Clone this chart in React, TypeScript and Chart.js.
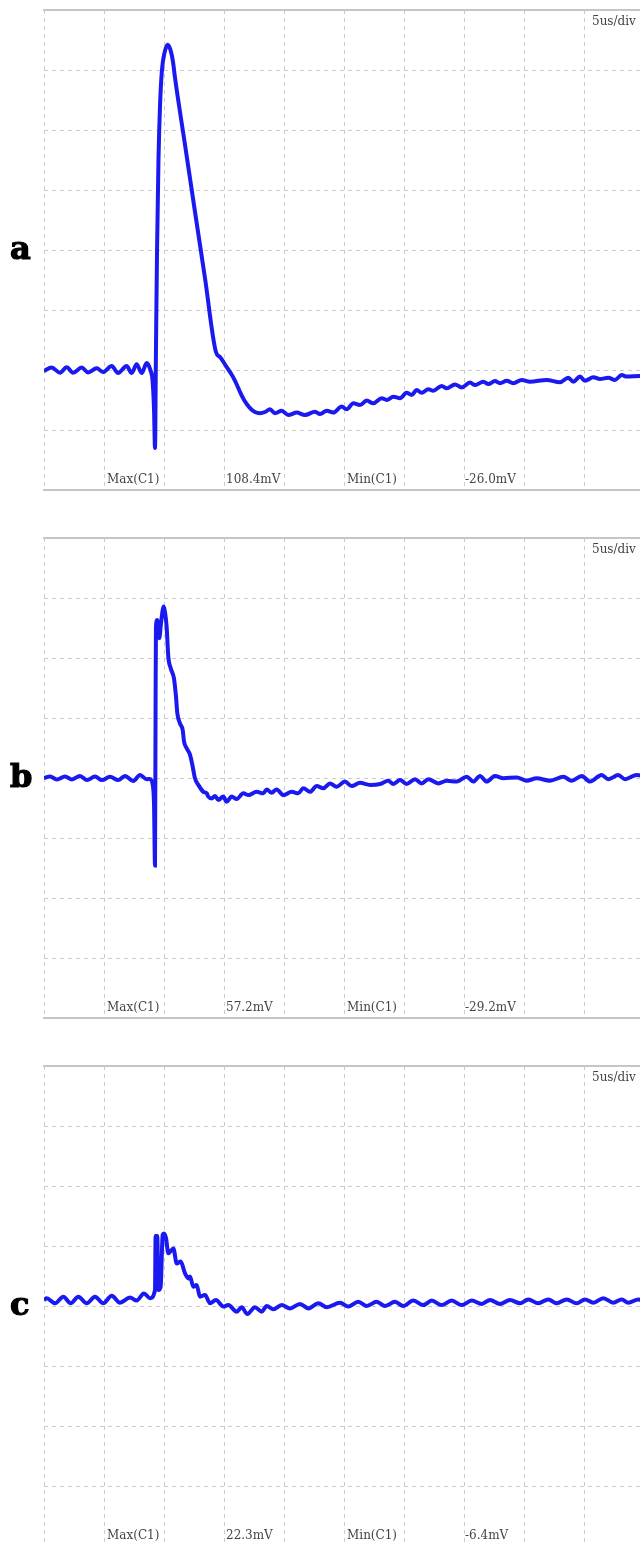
import React, { useEffect, useRef } from "react";
import { Chart, registerables } from "chart.js";

Chart.register(...registerables);

// ---- Panel a (20 mV/div, 5 us/div) ----
const timeA = [0, 0.64, 1.33, 1.89, 2.42, 3.14, 3.67, 4.39, 4.92, 5.64, 6.17, 6.89, 7.31, 7.72, 8.14, 8.56, 8.88, 9.04, 9.17, 9.25,
  9.33, 9.42, 9.54, 9.67, 9.83, 10.04, 10.31, 10.54, 10.75, 10.92, 11.75, 12.58, 13.42, 14.33, 14.67, 15.17, 15.75, 16.08,
  16.33, 16.67, 17.17, 17.58, 18.0, 18.42, 18.83, 19.25, 19.81, 20.36, 21.06, 21.75, 22.58, 23.0, 23.56, 24.11, 24.81, 25.22,
  25.78, 26.33, 26.89, 27.44, 28.14, 28.56, 29.11, 29.67, 30.22, 30.64, 31.06, 31.47, 32.03, 32.44, 33.14, 33.56, 34.25, 34.81,
  35.5, 35.92, 36.61, 37.03, 37.58, 38.0, 38.56, 39.11, 39.81, 40.5, 41.89, 43.0, 43.69, 44.11, 44.67, 45.08, 45.78, 46.33,
  47.03, 47.58, 48.14, 48.56, 49.67, 50];
const voltsA = [-0.3, 0.8, -0.9, 0.9, -0.9, 0.8, -0.8, 0.6, -0.7, 1.3, -1.0, 1.3, -1.0, 1.9, -1.0, 2.3, -0.2, -3.3, -13.3, -26.0,
  6.7, 40, 70, 88.3, 100, 105.7, 108.4, 106.7, 102.7, 97.3, 75.1, 52.8, 30.5, 6, 4.3, 1.3, -2.3, -5,
  -7.3, -10, -12.7, -14, -14.4, -14, -13.1, -14.4, -13.6, -15, -14.2, -15, -13.9, -14.7, -13.6, -14.2, -12.2, -13.1,
  -11.1, -11.7, -10.2, -11.1, -9.4, -10, -8.9, -9.4, -7.6, -8.3, -6.7, -7.6, -6.4, -6.9, -5.3, -6.1, -4.8, -5.8,
  -4.2, -5, -3.9, -4.7, -3.7, -4.4, -3.6, -4.4, -3.3, -3.9, -3.3, -4.1, -2.6, -3.9, -2.2, -3.6, -2.4, -3,
  -2.6, -3.3, -1.7, -2.2, -2, -2];

// ---- Panel b ----
const timeB = [0, 0.5, 1.08, 1.75, 2.33, 3.0, 3.58, 4.25, 4.83, 5.5, 6.19, 6.75, 7.44, 8.0, 8.56, 8.83, 9.06, 9.17, 9.25, 9.3,
  9.33, 9.44, 9.61, 9.75, 9.98, 10.08, 10.22, 10.36, 10.56, 10.83, 11.0, 11.11, 11.33, 11.56, 11.67, 11.89, 12.17, 12.39, 12.58,
  12.86, 13.28, 13.56, 13.69, 13.97, 14.25, 14.53, 14.94, 15.22, 15.64, 16.06, 16.61, 17.03, 17.72, 18.28, 18.56, 18.97, 19.39,
  19.94, 20.64, 21.19, 21.61, 22.17, 22.72, 23.28, 23.83, 24.39, 25.08, 25.64, 26.33, 27.17, 28.0, 28.69, 29.11, 29.67, 30.22,
  30.92, 31.47, 32.03, 32.86, 33.56, 34.39, 35.22, 35.78, 36.33, 36.89, 37.58, 38.28, 39.39, 40.22, 41.06, 42.17, 43.28, 43.97,
  44.81, 45.5, 46.47, 47.03, 47.86, 48.42, 49.39, 50];
const voltsB = [0, 0.5, -0.5, 0.5, -0.5, 0.7, -0.7, 0.5, -0.7, 0.4, -0.7, 0.7, -1, 1, -0.4, -0.3, -2.3, -9, -29.2, 26,
  50.4, 52.7, 46.6, 51.7, 57.2, 55.4, 50.4, 40.4, 36.6, 33.2, 27.1, 21.6, 18.2, 16, 12.1, 9.9, 7.7, 3.8, -0.1,
  -2.3, -4.6, -5.1, -6.2, -6.8, -6, -7.3, -6.2, -7.9, -6.2, -7, -5.1, -5.7, -4.6, -5.1, -3.8, -4.9, -3.8,
  -5.7, -4.6, -5.1, -3.4, -4.6, -2.7, -3.4, -1.8, -2.9, -1.2, -2.7, -1.6, -2.3, -2, -0.9, -2, -0.7, -2,
  -0.4, -1.8, -0.4, -1.8, -0.9, -1.2, 0.4, -1.2, 0.7, -1.2, 0.7, -0.1, 0.2, -0.9, -0.1, -0.9, 0.4, -0.9,
  0.7, -1.2, 1, -0.4, 1, -0.4, 1, 0.7];

// ---- Panel c ----
const timeC = [0, 0.22, 0.92, 1.61, 2.22, 2.86, 3.56, 4.25, 4.94, 5.64, 6.33, 7.17, 7.72, 8.33, 8.83, 9.25, 9.3, 9.44, 9.53, 9.72,
  9.89, 10.0, 10.17, 10.36, 10.64, 10.78, 11.06, 11.39, 11.75, 12.03, 12.17, 12.44, 12.72, 13.0, 13.42, 13.83, 14.33, 14.94,
  15.36, 16.06, 16.47, 16.94, 17.58, 18.14, 18.56, 19.11, 19.81, 20.5, 21.33, 22.03, 22.86, 23.56, 24.67, 25.36, 26.19, 26.89,
  27.72, 28.42, 29.25, 29.94, 30.78, 31.61, 32.31, 33.14, 33.97, 34.81, 35.64, 36.47, 37.17, 38.0, 38.83, 39.67, 40.36, 41.19,
  42.03, 42.72, 43.56, 44.39, 45.08, 45.78, 46.61, 47.44, 48.14, 48.69, 49.53, 50];
const voltsC = [2, 2.6, 0.9, 3.1, 0.9, 3.1, 0.9, 3.1, 0.9, 3.4, 1.1, 2.8, 1.8, 4.2, 2.6, 5.3, 23.3, 23.3, 5.3, 6.4,
  23.7, 24.2, 22.6, 17.6, 18.7, 19.2, 14.2, 14.8, 10.9, 9.2, 9.8, 6.4, 7, 3.1, 3.7, 0.9, 2, -0.2,
  0.3, -1.9, -0.4, -2.7, -0.4, -1.9, 0, -1.1, 0.3, -0.8, 0.7, -0.8, 0.9, -0.4, 1.1, -0.2, 1.4, 0,
  1.4, 0, 1.4, 0, 1.8, 0.3, 1.8, 0.3, 1.8, 0.3, 1.8, 0.7, 2, 0.7, 2, 0.9, 2.2, 0.9,
  2.2, 0.9, 2.2, 0.9, 2.2, 1.1, 2.6, 1.1, 2.2, 1.1, 2.2, 1.7];

const panelLetters = ["a", "b", "c"];
const timebaseLabel = "5us/div";
const maxLabels = ["108.4mV", "57.2mV", "22.3mV"];
const minLabels = ["-26.0mV", "-29.2mV", "-6.4mV"];
const yMins = [-40, -80, -80];
const yMaxs = [120, 80, 80];

const panels = [
  { t: timeA, v: voltsA },
  { t: timeB, v: voltsB },
  { t: timeC, v: voltsC },
];

const PANEL_STEP = 528;
const TRACE = "#1a1af0";
const GRID = "#cbcbcb";
const BORDER = "#c6c6c6";

function Panel({ idx }: { idx: number }) {
  const ref = useRef<HTMLCanvasElement | null>(null);
  useEffect(() => {
    if (!ref.current) return;
    const p = panels[idx];
    const chart = new Chart(ref.current, {
      type: "line",
      data: {
        datasets: [
          {
            data: p.t.map((t, i) => ({ x: t, y: p.v[i] })),
            borderColor: TRACE,
            borderWidth: 4,
            pointRadius: 0,
            cubicInterpolationMode: "monotone",
            fill: false,
          },
        ],
      },
      options: {
        animation: false,
        responsive: false,
        maintainAspectRatio: false,
        devicePixelRatio: 1,
        layout: { padding: { left: 44, right: 6, top: 10, bottom: 10 } },
        plugins: { legend: { display: false }, tooltip: { enabled: false } },
        scales: {
          x: {
            type: "linear",
            min: 0,
            max: 50,
            ticks: { display: false, stepSize: 5 },
            grid: { color: GRID, drawTicks: false, lineWidth: 1 },
            border: { display: true, color: BORDER, width: 2, dash: [4, 4] },
            afterFit: (s: any) => {
              s.height = 0;
            },
          },
          xTop: {
            type: "linear",
            position: "top",
            min: 0,
            max: 50,
            ticks: { display: false },
            grid: { display: false, drawTicks: false },
            border: { display: true, color: BORDER, width: 2 },
            afterFit: (s: any) => {
              s.height = 0;
            },
          },
          y: {
            type: "linear",
            min: yMins[idx],
            max: yMaxs[idx],
            ticks: { display: false, stepSize: 20 },
            grid: { color: GRID, drawTicks: false, lineWidth: 1 },
            border: { display: false, dash: [4, 4] },
            afterFit: (s: any) => {
              s.width = 0;
            },
          },
        },
      } as any,
    });
    return () => chart.destroy();
  }, [idx]);

  const top = idx * PANEL_STEP;
  const textStyle: React.CSSProperties = {
    position: "absolute",
    fontFamily: "'DejaVu Serif', serif",
    fontSize: 12,
    color: "#444",
    lineHeight: "14px",
    whiteSpace: "nowrap",
  };
  return (
    <div style={{ position: "absolute", left: 0, top, width: 650, height: 500 }}>
      <canvas ref={ref} width={650} height={500} style={{ position: "absolute", left: 0, top: 0, width: 650, height: 500 }} />
      <div
        style={{
          position: "absolute",
          left: 10,
          top: 228,
          fontFamily: "'DejaVu Serif', serif",
          fontWeight: 900,
          fontSize: 32,
          lineHeight: "40px",
          color: "#000",
          WebkitTextStroke: "1.2px #000",
        }}
      >
        {panelLetters[idx]}
      </div>
      <div style={{ ...textStyle, left: 592, top: 14 }}>{timebaseLabel}</div>
      <div style={{ ...textStyle, left: 107, top: 472 }}>Max(C1)</div>
      <div style={{ ...textStyle, left: 226, top: 472 }}>{maxLabels[idx]}</div>
      <div style={{ ...textStyle, left: 347, top: 472 }}>Min(C1)</div>
      <div style={{ ...textStyle, left: 465, top: 472 }}>{minLabels[idx]}</div>
    </div>
  );
}

export default function App() {
  return (
    <div
      style={{
        position: "absolute",
        left: 0,
        top: 0,
        width: 640,
        height: 1543,
        overflow: "hidden",
        background: "#fff",
      }}
    >
      {[0, 1, 2].map((i) => (
        <Panel key={i} idx={i} />
      ))}
    </div>
  );
}
